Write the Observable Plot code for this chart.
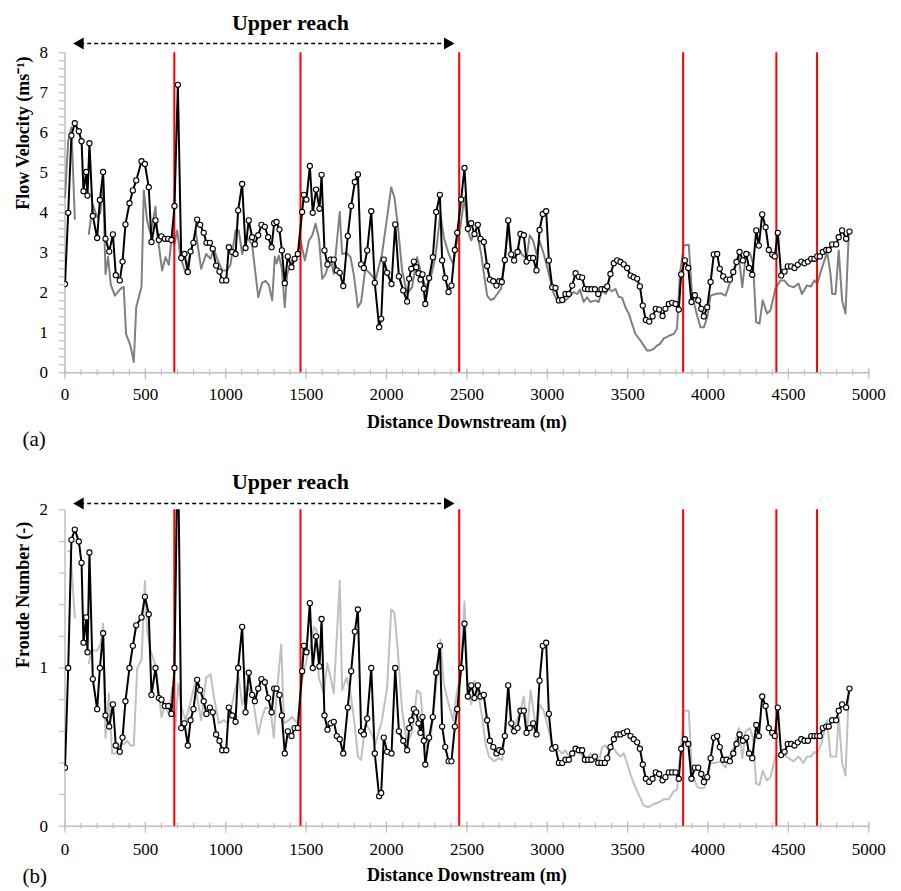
<!DOCTYPE html>
<html><head><meta charset="utf-8">
<script src="https://cdn.jsdelivr.net/npm/d3@7"></script>
<script src="https://cdn.jsdelivr.net/npm/@observablehq/plot@0.6"></script>
<style>
body{margin:0;background:#fff;}
#c svg{display:block;overflow:visible;background:#fff}
</style>
</head><body><div id="c"></div>
<script>
// ---- data ----
const distance = [
0,20,40,61,86,103,115,132,140,152,
173,200,217,237,252,275,298,316,341,358,
376,401,422,443,476,497,521,538,563,584,
600,621,642,662,681,702,723,743,764,781,
799,822,841,863,880,901,919,940,961,978,
1003,1019,1040,1061,1077,1102,1123,1143,1164,1181,
1202,1222,1243,1264,1285,1301,1316,1334,1349,1367,
1386,1409,1428,1448,1475,1486,1502,1523,1541,1562,
1583,1596,1614,1633,1652,1672,1691,1709,1731,1759,
1780,1803,1822,1842,1859,1880,1905,1927,1954,1967,
1983,2004,2031,2054,2077,2104,2128,2141,2154,2170,
2185,2199,2211,2224,2232,2241,2265,2288,2309,2332,
2346,2365,2386,2404,2425,2440,2464,2485,2506,2527,
2547,2568,2585,2605,2626,2643,2664,2684,2701,2717,
2736,2757,2776,2794,2815,2833,2854,2871,2891,2912,
2933,2952,2972,2993,3010,3031,3051,3072,3093,3113,
3134,3155,3176,3196,3217,3234,3254,3275,3296,3317,
3337,3358,3373,3393,3414,3435,3455,3476,3497,3518,
3538,3559,3576,3594,3613,3634,3655,3675,3696,3717,
3735,3756,3777,3798,3818,3833,3856,3877,3897,3918,
3939,3958,3974,3995,4016,4036,4057,4073,4094,4115,
4136,4157,4177,4196,4217,4238,4255,4275,4300,4316,
4337,4358,4378,4399,4415,4434,4455,4476,4496,4517,
4538,4558,4580,4600,4621,4642,4662,4679,4695,4714,
4735,4751,4772,4797,4813,4834,4859,4880];

const velocityModel = [
2.22,4.0,5.93,6.24,6.04,5.79,4.54,5.02,4.43,5.74,
3.92,3.37,4.32,5.02,3.35,3.03,3.46,2.44,2.31,2.78,
3.71,4.24,4.56,4.81,5.29,5.22,4.64,3.27,3.81,3.32,
3.41,3.35,3.35,3.32,4.17,7.2,2.87,2.97,2.52,3.03,
3.25,3.83,3.70,3.5,3.25,3.25,3.1,2.68,2.53,2.31,
2.31,3.14,3.02,2.97,4.06,4.72,3.12,3.81,3.39,3.21,
3.44,3.70,3.65,3.39,3.14,3.74,3.77,3.58,3.06,2.24,
2.91,2.64,2.85,2.97,4.02,4.45,4.33,5.17,4.0,4.58,
4.1,4.95,3.06,2.71,2.83,2.83,2.56,2.50,2.17,3.42,
4.17,4.77,4.96,2.71,2.62,3.06,4.04,2.25,1.14,1.35,
2.83,2.50,2.22,3.71,2.41,2.06,1.78,2.35,2.6,2.78,
2.64,2.49,2.33,2.46,2.10,1.72,2.37,2.89,4.02,4.45,
2.81,2.37,2.02,2.18,3.07,3.5,4.33,5.12,3.6,3.74,
3.47,3.70,3.35,3.27,2.67,2.33,2.29,2.18,2.29,2.27,
2.82,3.81,2.96,2.81,3.02,3.47,3.44,2.78,2.87,2.87,
2.56,3.57,3.97,4.04,2.81,2.14,2.12,1.81,1.82,1.97,
1.97,2.18,2.49,2.40,2.38,2.10,2.09,2.09,2.09,1.97,
2.09,2.09,2.16,2.47,2.74,2.81,2.77,2.71,2.62,2.43,
2.39,2.35,2.16,1.68,1.32,1.28,1.41,1.60,1.58,1.42,
1.60,1.72,1.75,1.72,1.58,2.46,2.81,2.62,1.77,1.94,
1.81,1.60,1.41,1.64,2.27,2.96,2.97,2.60,2.41,2.33,
2.33,2.52,2.77,3.02,2.81,2.97,2.62,2.45,3.56,3.18,
3.96,3.64,3.07,2.95,2.91,3.50,2.43,2.53,2.66,2.66,
2.62,2.70,2.78,2.74,2.78,2.85,2.85,2.91,2.91,3.02,
3.07,3.07,3.21,3.21,3.39,3.56,3.35,3.53];

const froudeModel = [
0.37,1.0,1.81,1.875,1.80,1.665,1.16,1.32,1.10,1.73,
0.93,0.74,1.0,1.22,0.70,0.63,0.77,0.51,0.47,0.56,
0.79,1.0,1.14,1.27,1.32,1.45,1.34,0.83,1.0,0.81,
0.80,0.76,0.76,0.71,1.0,2.5,0.62,0.65,0.51,0.67,
0.74,0.925,0.86,0.79,0.71,0.75,0.72,0.58,0.54,0.48,
0.48,0.75,0.70,0.66,1.0,1.26,0.72,0.97,0.83,0.79,
0.87,0.93,0.91,0.81,0.72,0.87,0.87,0.83,0.70,0.46,
0.60,0.57,0.62,0.62,0.98,1.14,1.10,1.41,1.0,1.20,
1.01,1.31,0.70,0.61,0.65,0.66,0.57,0.55,0.46,0.75,
0.98,1.23,1.37,0.60,0.58,0.68,1.0,0.46,0.19,0.21,
0.56,0.47,0.46,1.0,0.60,0.54,0.48,0.62,0.67,0.74,
0.72,0.65,0.59,0.69,0.54,0.39,0.56,0.69,0.97,1.14,
0.63,0.50,0.41,0.41,0.63,0.74,1.0,1.28,0.82,0.89,
0.81,0.89,0.82,0.83,0.67,0.54,0.50,0.46,0.48,0.47,
0.57,0.89,0.65,0.60,0.62,0.73,0.73,0.59,0.62,0.65,
0.58,0.92,1.14,1.16,0.71,0.49,0.50,0.40,0.40,0.42,
0.42,0.46,0.49,0.48,0.48,0.42,0.42,0.42,0.44,0.40,
0.40,0.40,0.43,0.50,0.55,0.58,0.58,0.59,0.60,0.57,
0.55,0.53,0.49,0.39,0.30,0.28,0.30,0.34,0.33,0.29,
0.31,0.34,0.34,0.34,0.30,0.49,0.55,0.52,0.30,0.37,
0.37,0.33,0.28,0.31,0.43,0.56,0.57,0.50,0.42,0.42,
0.41,0.46,0.52,0.58,0.54,0.56,0.46,0.43,0.64,0.57,
0.82,0.76,0.62,0.59,0.57,0.75,0.45,0.47,0.52,0.52,
0.51,0.53,0.55,0.54,0.54,0.57,0.57,0.57,0.57,0.62,
0.63,0.63,0.67,0.67,0.73,0.77,0.75,0.87];

const velObsDist = [
0,20,40,61,80,148,173,200,220,237,
252,268,285,310,345,365,380,407,428,443,
476,490,511,532,563,573,604,625,646,667,
680,698,718,750,781,812,847,878,905,926,
947,978,1009,1029,1061,1081,1102,1133,1164,1202,
1226,1247,1268,1289,1305,1316,1330,1349,1367,1382,
1414,1445,1465,1492,1517,1538,1559,1580,1600,1621,
1652,1672,1709,1724,1751,1776,1796,1822,1842,1868,
1900,1931,1972,2004,2029,2049,2070,2097,2128,2159,
2190,2211,2242,2273,2304,2335,2356,2387,2414,2439,
2459,2485,2506,2527,2547,2568,2589,2609,2626,2647,
2668,2688,2713,2736,2757,2776,2797,2818,2843,2871,
2891,2912,2933,2952,2978,2999,3020,3041,3061,3082,
3103,3124,3144,3165,3186,3203,3227,3248,3268,3299,
3320,3341,3362,3382,3403,3424,3444,3465,3486,3507,
3527,3548,3579,3600,3620,3641,3662,3683,3703,3724,
3745,3765,3786,3807,3825,3849,3880,3901,3932,3953,
3974,3995,4016,4047,4078,4109,4130,4161,4192,4213,
4234,4260,4280,4299,4320,4340,4367,4388,4419,4450,
4475,4501,4532,4563,4584,4615,4640,4661,4679,4704,
4741,4762,4772,4793,4813,4834,4855,4876];

const velocityObs = [
4.39,5.8,6.14,3.85,null,3.47,4.2,3.9,4.0,4.8,
2.47,2.9,2.2,1.93,2.1,2.15,0.97,0.68,0.27,1.64,
2.15,4.56,3.8,3.47,4.15,3.52,2.56,2.89,2.7,3.56,
3.2,3.56,2.9,2.49,3.0,3.56,2.6,2.97,2.85,3.1,
2.85,2.56,2.56,2.7,3.56,3.56,2.97,3.39,3.2,1.89,
2.25,2.3,2.2,1.81,2.91,2.73,2.93,2.6,1.64,2.47,
2.81,2.97,3.3,2.81,3.3,3.44,3.73,3.35,2.35,2.47,
2.89,2.47,4.02,2.97,3.0,2.89,2.47,1.64,1.77,2.6,
2.47,2.31,2.97,3.9,4.64,4.39,3.7,2.56,1.97,2.14,
2.89,2.56,2.14,2.35,2.89,3.98,3.39,2.97,2.73,3.3,
3.64,4.4,3.55,3.31,3.5,3.4,2.97,2.39,1.93,1.82,
1.85,1.97,2.1,2.85,3.64,2.9,2.85,3.14,2.95,2.85,
3.44,3.3,2.97,3.3,2.97,2.64,2.31,1.97,1.81,1.85,
1.77,1.85,1.93,2.02,1.97,2.08,1.77,1.89,1.77,1.81,
1.77,2.08,1.97,2.1,2.04,2.1,1.9,1.88,1.64,1.48,
1.23,0.97,0.81,0.68,0.56,0.56,0.6,0.68,0.73,0.86,
0.9,0.94,0.97,1.1,2.47,3.18,3.2,1.93,1.43,1.14,
1.14,1.39,1.93,1.97,1.99,1.93,2.18,2.56,2.89,2.14,
2.89,3.0,2.73,1.27,1.23,1.81,1.48,1.56,2.1,2.31,
2.31,2.18,2.14,2.23,1.97,2.18,2.16,2.31,2.23,2.56,
3.02,2.47,1.97,1.97,3.06,1.81,1.48,3.56];

const froObsDist = [
20,34,61,80,148,165,200,221,237,252,
273,293,314,345,366,387,407,428,449,476,
497,511,532,559,573,600,621,646,667,687,
704,725,750,777,808,847,878,905,926,957,
988,1015,1061,1081,1102,1133,1164,1202,1226,1247,
1278,1299,1309,1330,1345,1362,1392,1413,1445,1475,
1506,1527,1548,1565,1579,1610,1631,1652,1672,1709,
1724,1751,1776,1801,1822,1842,1869,1900,1931,1972,
2004,2029,2049,2070,2097,2128,2159,2190,2211,2242,
2273,2304,2335,2356,2387,2414,2439,2459,2485,2506,
2527,2547,2574,2595,2616,2637,2668,2699,2720,2736,
2757,2776,2803,2833,2854,2875,2896,2933,2952,2978,
3010,3031,3051,3072,3093,3113,3134,3165,3196,3217,
3237,3268,3299,3320,3341,3362,3382,3413,3434,3455,
3476,3496,3517,3538,3569,3600,3631,3662,3693,3724,
3755,3786,3807,3827,3849,3880,3901,3932,3953,3974,
3995,4016,4047,4078,4109,4130,4161,4192,4213,4234,
4260,4280,4299,4320,4340,4367,4388,4419,4450,4475,
4501,4532,4563,4594,4615,4640,4661,4679,4704,4741,
4762,4772,4797,4813,4834,4855,4876];

const froudeObs = [
1.74,1.74,1.32,null,1.03,1.11,1.11,1.15,1.28,0.56,
0.84,0.46,0.46,0.52,0.52,0.54,0.51,0.51,1.0,1.05,
1.55,1.24,1.11,1.03,0.94,0.69,0.76,0.71,0.88,0.62,
0.90,0.75,0.67,0.77,0.90,0.67,0.94,0.96,0.82,0.65,
0.67,0.65,0.88,0.94,0.77,0.88,0.84,0.58,0.69,0.75,
0.74,0.56,0.74,0.98,1.15,0.65,0.67,0.69,0.65,0.92,
1.07,1.13,1.26,1.24,0.94,0.84,1.03,0.94,0.84,1.55,
0.86,0.94,0.84,0.65,0.44,0.42,0.65,0.60,0.52,0.67,
0.88,1.37,1.35,1.11,0.73,0.52,0.60,0.86,0.84,0.50,
0.54,0.84,1.18,0.90,0.77,0.67,0.86,0.94,1.42,0.86,
0.77,0.92,0.82,0.69,0.52,0.44,0.41,0.43,0.42,0.60,
0.86,0.60,0.65,0.73,0.82,0.60,0.86,0.60,0.77,0.73,
0.60,0.52,0.50,0.48,0.46,0.48,0.44,0.46,0.48,0.44,
0.40,0.46,0.41,0.40,0.50,0.51,0.48,0.49,0.46,0.44,
0.46,0.40,0.33,0.27,0.20,0.13,0.12,0.14,0.15,0.17,
0.17,0.22,0.23,0.44,0.73,0.73,0.33,0.25,0.24,0.24,
0.29,0.40,0.40,0.41,0.37,0.44,0.50,0.62,0.43,0.60,
0.62,0.56,0.27,0.26,0.35,0.29,0.31,0.44,0.45,0.45,
0.43,0.41,0.44,0.40,0.44,0.44,0.47,0.46,0.52,0.67,
0.44,0.44,0.44,0.69,0.40,0.32,0.86];

const reachBreaks = [680, 1465, 2452, 3845, 4425, 4678];
const xTickLabels = [0,500,1000,1500,2000,2500,3000,3500,4000,4500,5000];
const yTickLabelsA = [0,1,2,3,4,5,6,7,8];
const yTickLabelsB = [0,1,2];
const upperReach = {label: "Upper reach", from: 51, to: 2423, labelAt: 1403};

// ---- drawing ----
const FONT = "'Liberation Serif','Times New Roman',serif";
const W = 901, LEFT = 64.5, RIGHT = 868.3;
const kx = (RIGHT - LEFT) / 5000;
const AXIS = "#bfbfbf";

function panel(o) {
  const ky = (o.height - o.mt - o.mb) / o.yMax;
  const minorX = d3.range(0, 5001, 100);
  const majorX = xTickLabels;
  const minorY = d3.range(0, o.yMax + 1e-9, o.yMinor).map(v => +v.toFixed(3));
  const obs = o.obsDist.map((d, i) => ({x: d, y: o.obsVal[i]}));
  const mod = distance.map((d, i) => ({x: d, y: o.model[i]}));
  const arrowY = o.yMax + o.arrowPx / ky;
  const headOff = 7 / kx;
  return Plot.plot({
    width: W, height: o.height,
    marginLeft: LEFT, marginRight: W - RIGHT, marginTop: o.mt, marginBottom: o.mb,
    x: {domain: [0, 5000], axis: null},
    y: {domain: [0, o.yMax], axis: null},
    style: {fontFamily: FONT, background: "#fff", color: "#000"},
    marks: [
      // axes
      Plot.ruleY([0], {x1: 0, x2: 5000, stroke: AXIS, strokeWidth: 1.5}),
      Plot.ruleX([0], {y1: 0, y2: o.yMax, stroke: AXIS, strokeWidth: 1.5}),
      Plot.ruleX(minorX, {x: d => d, y1: -3 / ky, y2: 3 / ky, stroke: AXIS, strokeWidth: 1.2}),
      Plot.ruleX(majorX, {x: d => d, y1: -7 / ky, y2: 4 / ky, stroke: AXIS, strokeWidth: 1.2}),
      Plot.ruleY(minorY, {y: d => d, x1: -5.5 / kx, x2: 0, stroke: AXIS, strokeWidth: 1.2}),
      Plot.text(o.yLabels, {x: 0, y: d => d, text: d => String(d), dx: -17, textAnchor: "end", fontSize: 17}),
      Plot.text(majorX, {x: d => d, y: 0, text: d => String(d), dy: o.xLabDy, fontSize: 17}),
      Plot.text([o.xTitle], {frameAnchor: "bottom", dy: o.xTitleDy, fontSize: 18, fontWeight: "bold"}),
      Plot.text([o.yTitle], {frameAnchor: "left", dx: 23 - LEFT, dy: o.yTitleDy, rotate: -90, fontSize: 18, fontWeight: "bold"}),
      Plot.text([o.tag], {frameAnchor: "bottom-left", dx: 22 - LEFT, dy: o.tagDy, fontSize: 21}),
      // upper reach annotation
      Plot.text([upperReach.label], {x: upperReach.labelAt, frameAnchor: "top", dy: o.reachTextDy, fontSize: 22, fontWeight: "bold"}),
      Plot.link([upperReach], {x1: d => d.from + headOff, x2: d => d.to - headOff, y1: arrowY, y2: arrowY, stroke: "#000", strokeWidth: 1.5, strokeDasharray: "4,3"}),
      Plot.dot([upperReach], {x: d => d.from + headOff, y: arrowY, symbol: "triangle", rotate: -90, r: 4.5, fill: "#000", stroke: "none"}),
      Plot.dot([upperReach], {x: d => d.to - headOff, y: arrowY, symbol: "triangle", rotate: 90, r: 4.5, fill: "#000", stroke: "none"}),
      // data
      Plot.line(obs, {x: "x", y: "y", stroke: o.obsColor, strokeWidth: 2, clip: true}),
      Plot.ruleX(reachBreaks, {x: d => d, y1: 0, y2: o.yMax, stroke: "#ff0000", strokeWidth: 2}),
      Plot.line(mod, {x: "x", y: "y", stroke: "#000", strokeWidth: 2, clip: true}),
      Plot.dot(mod, {x: "x", y: "y", r: 2.6, fill: "#fff", stroke: "#000", strokeWidth: 1.1, clip: true})
    ]
  });
}

const c = document.getElementById("c");
c.appendChild(panel({
  height: 455, mt: 52.3, mb: 455 - 372.3, yMax: 8, yMinor: 0.2,
  model: velocityModel, obsDist: velObsDist, obsVal: velocityObs, obsColor: "#808080",
  yLabels: yTickLabelsA, yTitle: "Flow Velocity (ms\u207B\u00B9)", xTitle: "Distance Downstream (m)", tag: "(a)",
  xLabDy: 22, xTitleDy: 55, yTitleDy: -3, tagDy: 73, arrowPx: 9.3, reachTextDy: -38
}));
c.appendChild(panel({
  height: 436, mt: 54.3, mb: 436 - 370.7, yMax: 2, yMinor: 0.2,
  model: froudeModel, obsDist: froObsDist, obsVal: froudeObs, obsColor: "#c0c0c0",
  yLabels: yTickLabelsB, yTitle: "Froude Number (-)", xTitle: "Distance Downstream (m)", tag: "(b)",
  xLabDy: 23, xTitleDy: 55, yTitleDy: 0, tagDy: 57, arrowPx: 6.3, reachTextDy: -36
}));
</script>
</body></html>
